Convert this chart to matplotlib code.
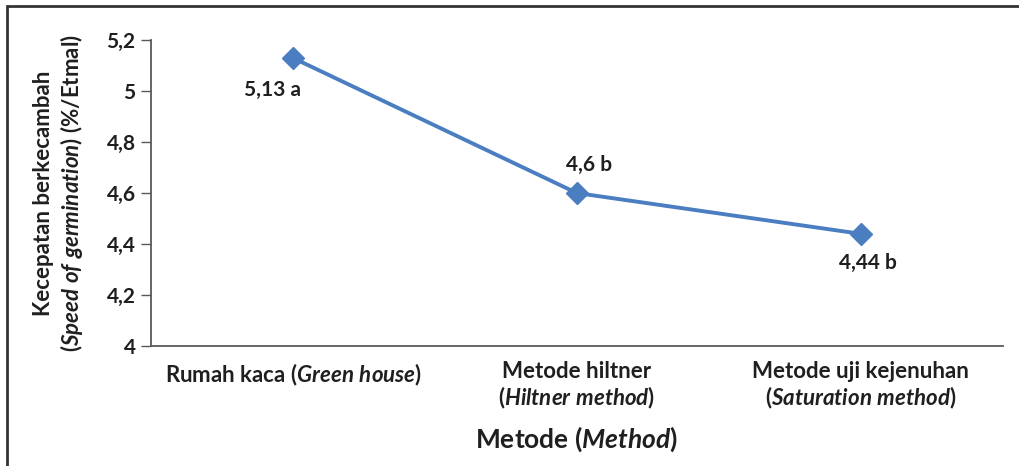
import numpy as np
import matplotlib.pyplot as plt
from matplotlib.patches import Rectangle

fam = 'Lato'
plt.rcParams['font.family'] = fam
plt.rcParams['mathtext.fontset'] = 'custom'
plt.rcParams['mathtext.rm'] = fam + ':bold'
plt.rcParams['mathtext.it'] = fam + ':italic:bold'
plt.rcParams['mathtext.bf'] = fam + ':bold'

categories = ['Rumah kaca ($\\mathit{Green\\ house}$)',
              'Metode hiltner\n($\\mathit{Hiltner\\ method}$)',
              'Metode uji kejenuhan\n($\\mathit{Saturation\\ method}$)']
values = [5.13, 4.6, 4.44]
labels = ['5,13 a', '4,6 b', '4,44 b']
offsets = [(-15, -23), (9, 20), (5, -21)]
yticks = [4, 4.2, 4.4, 4.6, 4.8, 5, 5.2]
ytick_labels = ['4', '4,2', '4,4', '4,6', '4,8', '5', '5,2']
txt = '#1f1f1f'

fig = plt.figure(figsize=(10.2, 4.66), dpi=100)
ax = fig.add_axes([0.148, 0.2575, 0.835, 0.6565])

x = np.arange(len(categories))
ax.plot(x, values, color='#4A7EC1', lw=2.8, marker='D', ms=11, mec='#4A7EC1', mfc='#4A7EC1')
for xi, v, t, off in zip(x, values, labels, offsets):
    ax.annotate(t, (xi, v), xytext=off, textcoords='offset points', ha='center', va='center',
                fontsize=15, fontweight='bold', color=txt)

ax.set_xlim(-0.5, 2.5)
ax.set_ylim(4, 5.2)
ax.set_yticks(yticks)
ax.set_yticklabels(ytick_labels, fontsize=15, fontweight='bold', color=txt)
ax.set_xticks(x)
ax.set_xticklabels(categories, fontsize=16, fontweight='bold', color=txt, va='top', linespacing=1.1)
ax.tick_params(axis='x', length=0, pad=11)
ax.tick_params(axis='y', length=7, width=1, color='#595959', pad=4)
for s in ['top', 'right']:
    ax.spines[s].set_visible(False)
for s in ['left', 'bottom']:
    ax.spines[s].set_color('#595959')
    ax.spines[s].set_linewidth(1.3)

ax.set_xlabel('Metode ($\\mathit{Method}$)', fontsize=19, fontweight='bold', color=txt)
ax.xaxis.set_label_coords(0.5, -0.255)
ax.set_ylabel('Kecepatan berkecambah\n($\\mathit{Speed\\ of\\ germination}$) (%/Etmal)',
              fontsize=16, fontweight='bold', color=txt, linespacing=1.2)
ax.yaxis.set_label_coords(-0.077, 0.5)

fig.add_artist(Rectangle((0.0069, -0.1), 1.2, 1.087, transform=fig.transFigure,
                         fill=False, ec='#333333', lw=2, clip_on=False))

fig.savefig('out.png', dpi=100)
